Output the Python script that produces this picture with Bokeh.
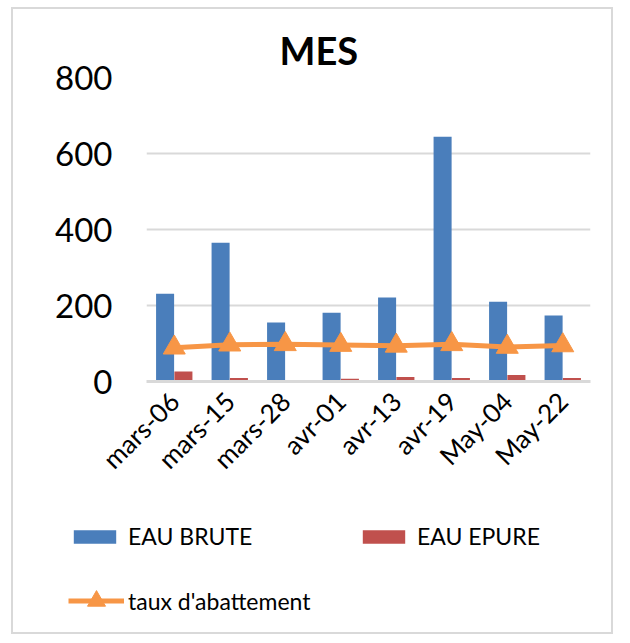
from bokeh.plotting import figure
from bokeh.models import (FactorRange, Range1d, Legend, LegendItem,
                          FixedTicker)
from bokeh.transform import dodge
from bokeh.embed import file_html
from bokeh.resources import INLINE
from math import pi

categories = ["mars-06", "mars-15", "mars-28", "avr-01", "avr-13", "avr-19", "May-04", "May-22"]
eau_brute = [231, 365, 155, 181, 221, 644, 210, 174]
eau_epure = [26, 9, 3, 7, 12, 9, 17, 9]
taux = [89, 97, 98, 96, 94, 98, 91, 95]
y_ticks = [0, 200, 400, 600, 800]

FONT = "Lato"
BLUE = "#4a7ebb"
RED = "#c0504d"
ORANGE = "#f79646"
BORDER = "2px solid #d9d9d9"

W = 602
p = figure(x_range=FactorRange(*categories, range_padding=0),
           y_range=Range1d(0, 800),
           width=W, height=490, output_backend="svg", toolbar_location=None,
           min_border_left=133, min_border_right=25, min_border_top=68,
           min_border_bottom=118)
p.outline_line_color = None
p.styles = {"border-top": BORDER, "border-left": BORDER, "border-right": BORDER}
p.margin = (7, 0, 0, 11)

src = dict(cat=categories, brute=eau_brute, epure=eau_epure, taux=taux)

p.vbar(x=dodge("cat", -0.165, range=p.x_range), top="brute", width=0.325,
       source=src, fill_color=BLUE, line_color=None)
p.vbar(x=dodge("cat", 0.165, range=p.x_range), top="epure", width=0.325,
       source=src, fill_color=RED, line_color=None)
p.line(x="cat", y="taux", source=src, line_color=ORANGE, line_width=5)
p.scatter(x="cat", y="taux", source=src, marker="triangle", size=22,
          fill_color=ORANGE, line_color=ORANGE)

# axes
p.yaxis.ticker = FixedTicker(ticks=y_ticks)
p.yaxis.axis_line_color = None
p.yaxis.major_tick_line_color = None
p.yaxis.minor_tick_line_color = None
p.yaxis.major_label_text_font = FONT
p.yaxis.major_label_text_font_size = "33px"
p.yaxis.major_label_text_color = "black"
p.yaxis.major_label_standoff = 28

p.xaxis.axis_line_color = "#d9d9d9"
p.xaxis.axis_line_width = 3
p.xaxis.major_tick_line_color = None
p.xaxis.minor_tick_line_color = None
p.xaxis.major_label_orientation = pi / 4
p.xaxis.major_label_text_font = FONT
p.xaxis.major_label_text_font_size = "26px"
p.xaxis.major_label_text_color = "black"
p.xaxis.major_label_standoff = 9

p.xgrid.grid_line_color = None
p.ygrid.ticker = FixedTicker(ticks=y_ticks)
p.ygrid.grid_line_color = "#d9d9d9"
p.ygrid.grid_line_width = 2

# title
p.title.text = "MES"
p.title.text_font = FONT
p.title.text_font_size = "38px"
p.title.text_font_style = "bold"
p.title.text_color = "black"
p.title.align = "left"
p.title.offset = 133

# legend figure (separate root so its frame is not aligned with the chart's)
p2 = figure(x_range=Range1d(0, 1), y_range=Range1d(0, 1), width=W, height=137,
            output_backend="svg", toolbar_location=None,
            min_border=0, min_border_left=0, min_border_right=0,
            min_border_top=0, min_border_bottom=0)
p2.axis.visible = False
p2.grid.visible = False
p2.outline_line_color = None
p2.styles = {"border-bottom": BORDER, "border-left": BORDER, "border-right": BORDER}
p2.margin = (0, 0, 0, 11)
dummy = dict(x=[-10], top=[0], y=[-10])
lb1 = p2.vbar(x="x", top="top", width=0.1, source=dummy, fill_color=BLUE, line_color=None)
lb2 = p2.vbar(x="x", top="top", width=0.1, source=dummy, fill_color=RED, line_color=None)
ll = p2.line(x="x", y="y", source=dummy, line_color=ORANGE, line_width=5)
ls = p2.scatter(x="x", y="y", source=dummy, marker="triangle", size=18,
                fill_color=ORANGE, line_color=ORANGE)

leg1 = Legend(items=[LegendItem(label="EAU BRUTE", renderers=[lb1]),
                     LegendItem(label="EAU EPURE", renderers=[lb2])],
              orientation="horizontal", location=(55, 84),
              glyph_width=53, glyph_height=17, label_standoff=7,
              label_width=229, spacing=0, padding=0, margin=0,
              border_line_color=None, background_fill_alpha=0,
              label_text_font=FONT, label_text_font_size="23px",
              label_text_color="black", label_height=17)
leg2 = Legend(items=[LegendItem(label="taux d'abattement", renderers=[ll, ls])],
              location=(55, 11), glyph_width=56, glyph_height=45,
              label_standoff=4, padding=0, margin=0,
              border_line_color=None, background_fill_alpha=0,
              label_text_font=FONT, label_text_font_size="23px",
              label_text_color="black")
p2.add_layout(leg1)
p2.add_layout(leg2)

open("out.html", "w").write(file_html([p, p2], INLINE))
